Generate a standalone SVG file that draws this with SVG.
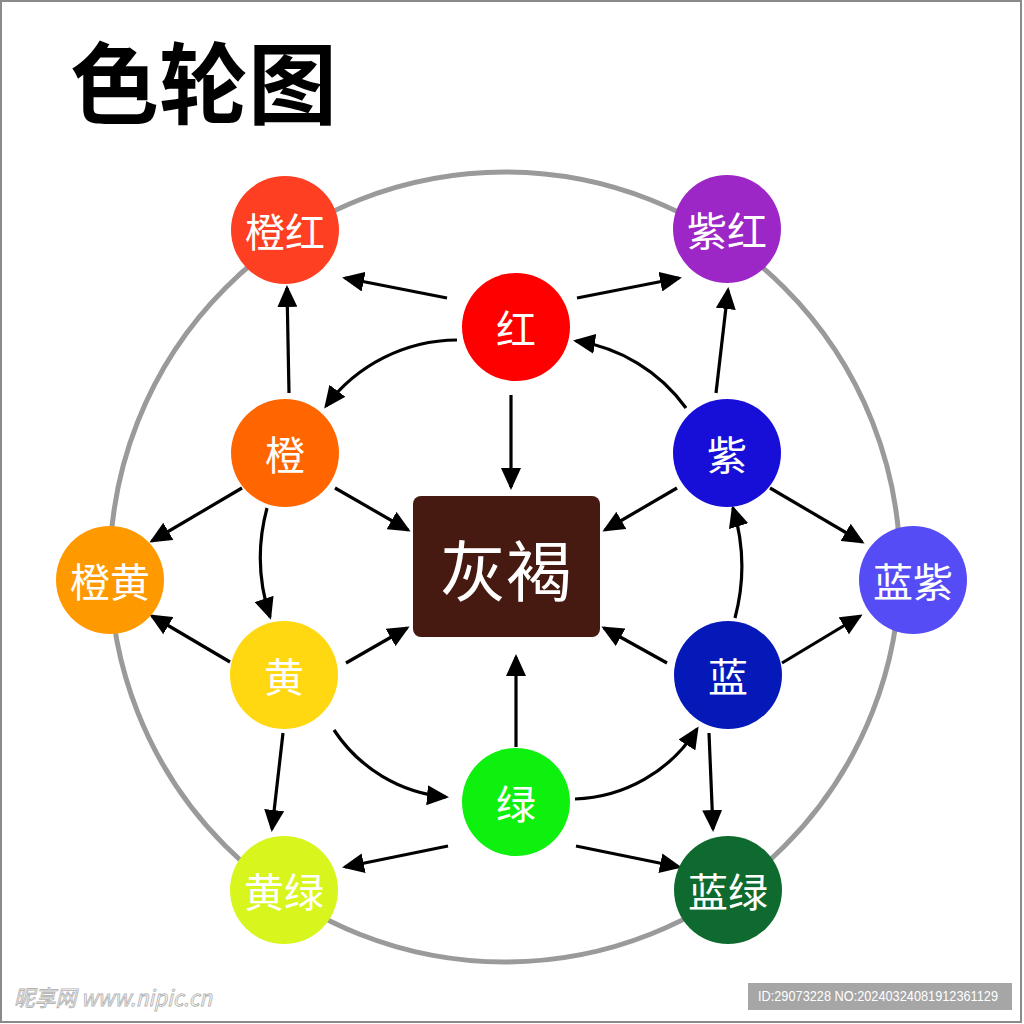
<svg xmlns="http://www.w3.org/2000/svg" width="1024" height="1024" viewBox="0 0 1024 1024">
<style>
.node text{fill:#fff;font-family:"Noto Sans CJK SC","Noto Sans",sans-serif;font-size:40px;text-anchor:middle;dominant-baseline:central}
.conn path{fill:none;stroke:#000;stroke-width:3.2;marker-end:url(#ah)}
</style>
<defs>
<marker id="ah" markerUnits="userSpaceOnUse" markerWidth="22" markerHeight="20" viewBox="0 0 22 20" refX="19" refY="10" orient="auto">
<path d="M0,0 L22,10 L0,20 z" fill="#000"/>
</marker>
</defs>
<rect x="0" y="0" width="1024" height="1024" fill="#fff"/>
<rect x="1" y="1" width="1020" height="1021" fill="none" stroke="#8a8a8a" stroke-width="2"/>
<text x="70" y="117" font-family="'Noto Sans CJK SC',sans-serif" font-weight="bold" font-size="89" fill="#000">色轮图</text>
<circle cx="505" cy="567" r="395" fill="none" stroke="#9a9a9a" stroke-width="5"/>
<g class="conn" id="connectors">
<path d="M447,298 L345,278"/>
<path d="M577,298 L679,278"/>
<path d="M289,393 L287,288"/>
<path d="M716,393 L728,290"/>
<path d="M511,395 L511,487"/>
<path d="M335,488 L408,530"/>
<path d="M677,488 L605,530"/>
<path d="M242,488 L152,541"/>
<path d="M770,488 L862,542"/>
<path d="M230,662 L152,616"/>
<path d="M782,663 L860,616"/>
<path d="M346,663 L407,628"/>
<path d="M667,663 L604,628"/>
<path d="M516,747 L516,657"/>
<path d="M283,733 L272,829"/>
<path d="M709,733 L713,829"/>
<path d="M448,846 L345,867"/>
<path d="M576,846 L679,867"/>
<path d="M457,340 A165,165 0 0 0 326,406"/>
<path d="M686,408 A165,165 0 0 0 576,341"/>
<path d="M267,508 A190,190 0 0 0 270,617"/>
<path d="M735,618 A200,200 0 0 0 733,508"/>
<path d="M334,730 A150,150 0 0 0 446,797"/>
<path d="M575,799 A150,150 0 0 0 697,729"/>
</g>
<g class="node" id="n-chenghong"><circle cx="285" cy="230" r="54" fill="#FF3F21"/><text x="285" y="230">橙红</text></g>
<g class="node" id="n-zihong"><circle cx="727" cy="229" r="54" fill="#9C27C6"/><text x="727" y="229">紫红</text></g>
<g class="node" id="n-hong"><circle cx="516" cy="327" r="54" fill="#FF0000"/><text x="516" y="327">红</text></g>
<g class="node" id="n-cheng"><circle cx="285" cy="453" r="54" fill="#FF6600"/><text x="285" y="453">橙</text></g>
<g class="node" id="n-zi"><circle cx="727" cy="453" r="54" fill="#170FD8"/><text x="727" y="453">紫</text></g>
<g class="node" id="n-chenghuang"><circle cx="110" cy="580" r="54" fill="#FF9900"/><text x="110" y="580">橙黄</text></g>
<g class="node" id="n-lanzi"><circle cx="913" cy="580" r="54" fill="#564CF5"/><text x="913" y="580">蓝紫</text></g>
<g class="node" id="n-huihe"><rect x="413" y="496" width="187" height="141" rx="8" fill="#461A10"/><text x="506" y="567" style="font-size:66px">灰褐</text></g>
<g class="node" id="n-huang"><circle cx="284" cy="675" r="54" fill="#FFD811"/><text x="284" y="675">黄</text></g>
<g class="node" id="n-lan"><circle cx="728" cy="675" r="54" fill="#0519B8"/><text x="728" y="675">蓝</text></g>
<g class="node" id="n-lv"><circle cx="516" cy="802" r="54" fill="#0EF00E"/><text x="516" y="802">绿</text></g>
<g class="node" id="n-huanglv"><circle cx="284" cy="890" r="54" fill="#D9F51E"/><text x="284" y="890">黄绿</text></g>
<g class="node" id="n-lanlv"><circle cx="728" cy="890" r="54" fill="#0F6A2F"/><text x="728" y="890">蓝绿</text></g>
<text x="14" y="1006" font-family="'Noto Sans CJK SC',sans-serif" font-size="22" font-style="italic" fill="#fff" stroke="#b4b4b4" stroke-width="0.9" textLength="198" lengthAdjust="spacingAndGlyphs">昵享网 www.nipic.cn</text>
<rect x="748" y="983" width="264" height="27" fill="#a6a6a6"/>
<text x="758" y="1001" font-family="'Liberation Sans',sans-serif" font-size="14" fill="#fff" textLength="240" lengthAdjust="spacingAndGlyphs">ID:29073228 NO:20240324081912361129</text>
</svg>
